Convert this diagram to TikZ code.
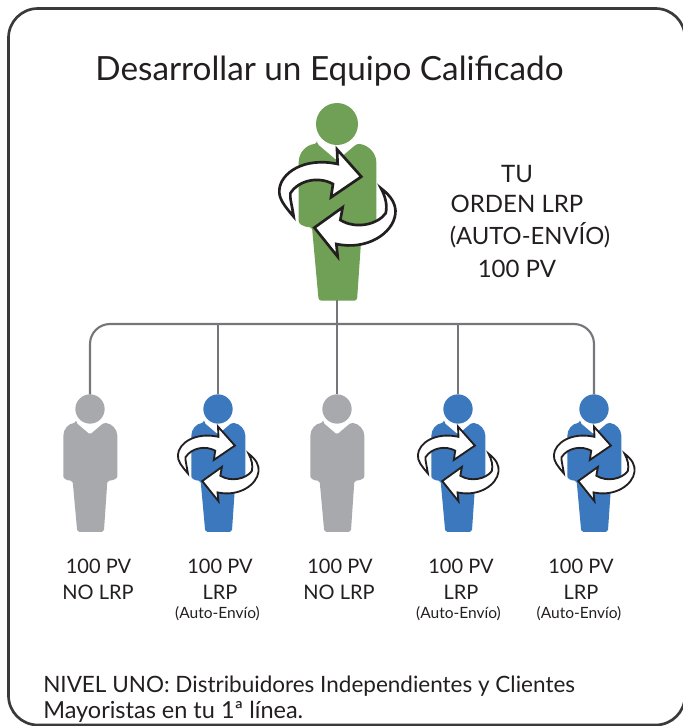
\documentclass[tikz,border=0pt]{standalone}
\usepackage{fontspec}
\setmainfont{Lato}
\definecolor{frameC}{HTML}{3A3A3C}
\definecolor{lineC}{HTML}{75767A}
\definecolor{greenC}{HTML}{709F56}
\definecolor{blueC}{HTML}{3B78BD}
\definecolor{grayC}{HTML}{A7A9AC}
\definecolor{inkC}{HTML}{231F20}
\newcommand{\pxfont}[1]{\fontsize{\dimexpr #1pt*3/4\relax}{\dimexpr #1pt*3/4\relax}\selectfont}
\tikzset{
  x=0.75pt,y=-0.75pt,
  txt/.style={text=inkC,inner sep=0pt,anchor=base,align=center},
  connector/.style={draw=lineC,line width=1.6pt,rounded corners=15pt},
  head/.style={circle,inner sep=0pt,outer sep=0pt},
  pics/person/.style n args={3}{code={
    \begin{scope}[x=#2*0.25pt,y=-#2*0.25pt,shift={(-230,-102)}]
      \fill[#1,rounded corners=#2*2pt] (170,161) -- (230,212) -- (290,161)
        .. controls (325,165) and (348,190) .. (348,225) -- (348,385)
        .. controls (348,400) and (335,410) .. (305,412)
        -- (290,632) -- (175,632) -- (155,412)
        .. controls (125,410) and (115,400) .. (115,385) -- (115,225)
        .. controls (115,190) and (135,165) .. (170,161) -- cycle;
      \ifnum#3=1
      \begin{scope}[draw=inkC,fill=white,line width=#2*2pt,line join=miter,miter limit=6]
        \filldraw (100,380) .. controls (70,345) and (55,325) .. (57,300)
          .. controls (60,250) and (130,200) .. (232,222)
          -- (230,178) -- (303,260) -- (212,322) -- (218,282)
          .. controls (175,258) and (115,270) .. (90,310)
          .. controls (88,325) and (95,345) .. (100,380) -- cycle;
        \filldraw (362,295) .. controls (395,320) and (408,345) .. (405,372)
          .. controls (398,430) and (320,482) .. (228,462)
          -- (232,500) -- (162,413) -- (247,352) -- (240,390)
          .. controls (285,418) and (350,405) .. (376,370)
          .. controls (382,345) and (375,320) .. (362,295) -- cycle;
      \end{scope}
      \fi
    \end{scope}
  }},
}
\begin{document}
\begin{tikzpicture}
\useasboundingbox (0,0) rectangle (683,726);
\begin{scope}
\clip (0,0) rectangle (683,726);
\draw[frameC,line width=2pt,rounded corners=22pt] (8.5,725) -- (8.5,8.5) -- (685,8.5) -- (685,725) -- cycle;
\end{scope}

\node[txt] (title) at (329.5,80) {\pxfont{33.3}Desarrollar un Equipo Calificado};
\node[txt] (tu1) at (517,182) {\pxfont{24}TU};
\node[txt] (tu2) at (517,212) {\pxfont{24}ORDEN LRP};
\node[txt] (tu3) at (530,244) {\pxfont{23.8}(AUTO-ENVÍO)};
\node[txt] (tu4) at (517,277) {\pxfont{24}100 PV};

% people
\node[head,fill=greenC,minimum size=31.5pt] (top) at (337,124) {};
\pic at (top.center) {person={greenC}{1}{1}};
\coordinate (topfoot) at (337,300);
\coordinate (bar) at (337,324);
\node[head,fill=grayC,minimum size=22pt] (a) at (90,409) {};
\node[head,fill=blueC,minimum size=22pt] (b) at (218,409) {};
\node[head,fill=grayC,minimum size=22pt] (c) at (337,409) {};
\node[head,fill=blueC,minimum size=22pt] (d) at (458,409) {};
\node[head,fill=blueC,minimum size=22pt] (e) at (594,409) {};

\draw[connector] (a.north) -- (a.north |- bar) -- (e.north |- bar) -- (e.north);
\draw[connector] (topfoot) -- (c.north);
\draw[connector] (b.north |- bar) -- (b.north);
\draw[connector] (d.north |- bar) -- (d.north);

\pic at (a.center) {person={grayC}{0.695}{0}};
\pic at (b.center) {person={blueC}{0.695}{1}};
\pic at (c.center) {person={grayC}{0.695}{0}};
\pic at (d.center) {person={blueC}{0.695}{1}};
\pic at (e.center) {person={blueC}{0.695}{1}};

% labels
\node[txt] (a1) at (98.5,573) {\pxfont{20}100 PV};
\node[txt] (a2) at (98,599) {\pxfont{20}NO LRP};
\node[txt] (b1) at (220,573) {\pxfont{20}100 PV};
\node[txt] (b2) at (220,599) {\pxfont{20}LRP};
\node[txt] (b3) at (217.5,618) {\pxfont{15.5}(Auto-Envío)};
\node[txt] (c1) at (340,573) {\pxfont{20}100 PV};
\node[txt] (c2) at (339,599) {\pxfont{20}NO LRP};
\node[txt] (d1) at (461,573) {\pxfont{20}100 PV};
\node[txt] (d2) at (461,599) {\pxfont{20}LRP};
\node[txt] (d3) at (458.5,618) {\pxfont{15.5}(Auto-Envío)};
\node[txt] (e1) at (581,573) {\pxfont{20}100 PV};
\node[txt] (e2) at (581,599) {\pxfont{20}LRP};
\node[txt] (e3) at (579,618) {\pxfont{15.5}(Auto-Envío)};

\node[txt,anchor=base west] (n1) at (43,692.5) {\pxfont{22.5}NIVEL UNO: Distribuidores Independientes y Clientes};
\node[txt,anchor=base west] (n2) at (43,718) {\pxfont{23.5}Mayoristas en tu 1ª línea.};
\end{tikzpicture}
\end{document}
